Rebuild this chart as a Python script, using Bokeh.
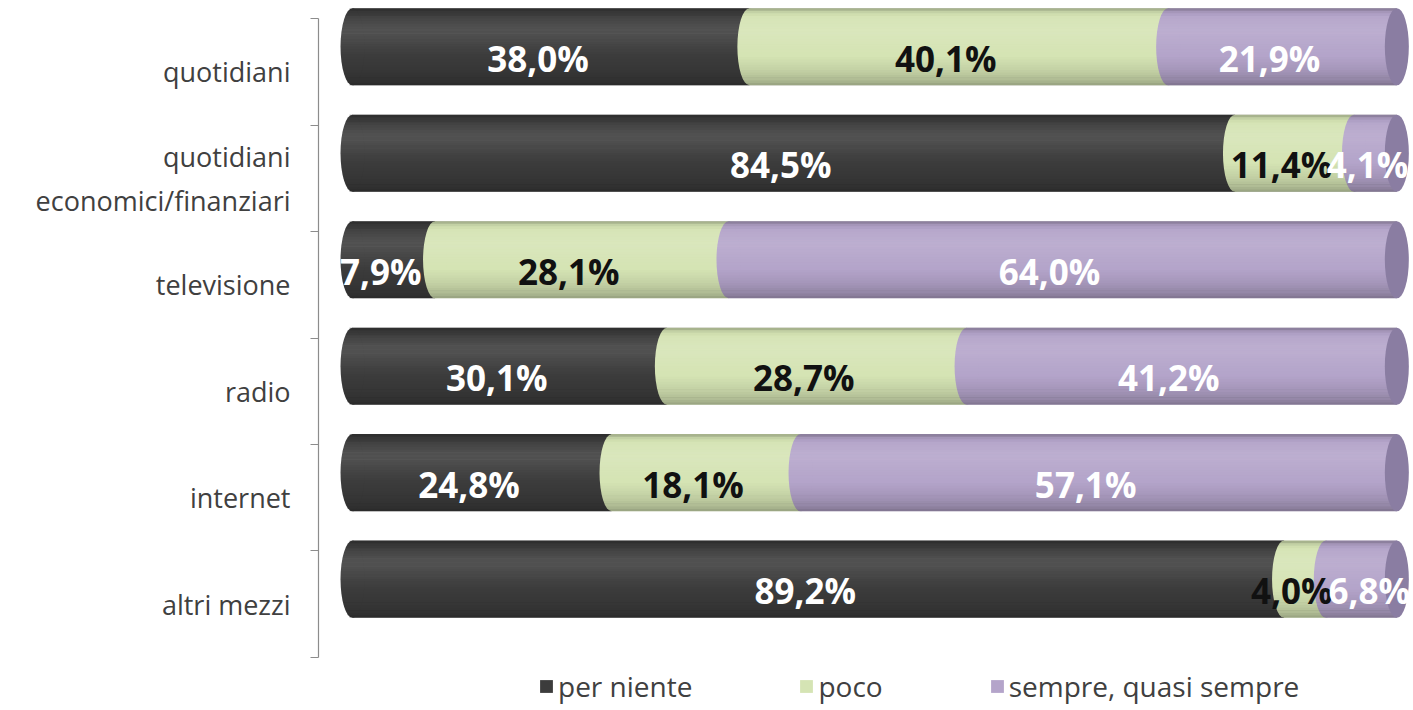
from bokeh.plotting import figure
from bokeh.models import ColumnDataSource, Range1d, FixedTicker, Legend, LegendItem
from bokeh.core.properties import value
from bokeh.embed import file_html
from bokeh.resources import INLINE

# ---- data -----------------------------------------------------------
categories = ["quotidiani", "quotidiani\neconomici/finanziari", "televisione",
              "radio", "internet", "altri mezzi"]
series_names = ["per niente", "poco", "sempre, quasi sempre"]
per_niente = [38.0, 84.5, 7.9, 30.1, 24.8, 89.2]
poco = [40.1, 11.4, 28.1, 28.7, 18.1, 4.0]
sempre = [21.9, 4.1, 64.0, 41.2, 57.1, 6.8]

# ---- style ----------------------------------------------------------
colors = ["#3c3c3c", "#d5e4b4", "#b4a4ca"]
cap_color = "#8a7da2"
label_colors = ["white", "#111111", "white"]
FONT = "Open Sans"
BAR_SHIFT = -0.235     # 3-D perspective shift of the cylinders
BAR_H = 0.725
LABEL_SHIFT = -0.125
LABEL_DX = -1.25
CAP_W = 2.3
CHAR_W = 1.7           # approx. label character width in x units
LABEL_GAP = 0.6
X_MAX = 101.5

n = len(categories)
ypos = list(range(n))

p = figure(width=1412, height=708, output_backend="svg", toolbar_location=None,
           x_range=Range1d(-3.26, X_MAX), y_range=Range1d(5.979, -0.613),
           x_axis_location=None, min_border_left=318, min_border_right=0,
           min_border_top=6, min_border_bottom=0)
p.outline_line_color = None
p.grid.visible = False
p.background_fill_color = "white"
p.border_fill_color = "white"

all_series = [per_niente, poco, sempre]
renderers = []
lefts = [0.0] * n
prev_lab = None
for k, vals in enumerate(all_series):
    rights = [l + v for l, v in zip(lefts, vals)]
    labs = [f"{v:.1f}%".replace(".", ",") for v in vals]
    mids = [(l + r) / 2 + LABEL_DX for l, r in zip(lefts, rights)]
    if prev_lab is not None:
        # keep neighbouring labels from overlapping
        for i in range(n):
            pm, pl = prev_lab[0][i], prev_lab[1][i]
            need = pm + (len(pl) + len(labs[i])) * CHAR_W / 2 + LABEL_GAP
            if mids[i] < need:
                mids[i] = need
    # keep labels inside the plot area
    mids = [min(m, X_MAX - len(t) * CHAR_W / 2 - 0.4) for m, t in zip(mids, labs)]
    prev_lab = (mids, labs)
    src = ColumnDataSource(dict(
        y=[yy + BAR_SHIFT for yy in ypos], left=list(lefts), right=rights,
        ly=[yy + LABEL_SHIFT for yy in ypos], mid=mids, lab=labs))
    r = p.hbar(y="y", left="left", right="right", height=BAR_H, source=src,
               fill_color=colors[k], line_color=None)
    p.ellipse(x="left", y="y", width=CAP_W, height=BAR_H, source=src,
              fill_color=colors[k], line_color=None)
    renderers.append((r, src, k))
    lefts = rights

# cylinder shading: thin strips, shade profile from top (t=0) to bottom (t=1)
profile = [(0.0, -0.30), (0.04, -0.10), (0.12, 0.04), (0.28, 0.12), (0.45, 0.06),
           (0.62, 0.0), (0.80, -0.08), (0.93, -0.18), (1.0, -0.30)]
NS = 30
for j in range(NS):
    t = (j + 0.5) / NS
    for (t0, s0), (t1, s1) in zip(profile[:-1], profile[1:]):
        if t0 <= t <= t1:
            s = s0 + (s1 - s0) * (t - t0) / (t1 - t0)
            break
    if abs(s) < 0.005:
        continue
    u = 2 * t - 1
    xl = -(CAP_W / 2) * (max(0.0, 1 - u * u)) ** 0.5
    s_src = ColumnDataSource(dict(
        y=[yy + BAR_SHIFT - BAR_H / 2 + t * BAR_H for yy in ypos],
        left=[xl] * n, right=lefts))
    p.hbar(y="y", left="left", right="right", height=BAR_H / NS * 1.02, source=s_src,
           fill_color="white" if s > 0 else "black", fill_alpha=abs(s), line_color=None)

# end caps of the cylinders
cap_src = ColumnDataSource(dict(x=lefts, y=[yy + BAR_SHIFT for yy in ypos]))
p.ellipse(x="x", y="y", width=CAP_W, height=BAR_H, source=cap_src,
          fill_color=cap_color, line_color=None)

# data labels
for r, src, k in renderers:
    p.text(x="mid", y="ly", text="lab", source=src, text_align="center",
           text_baseline="middle", text_font=value(FONT), text_font_style="bold",
           text_font_size="35px", text_color=label_colors[k])

# y axis
ax = p.yaxis[0]
ax.ticker = FixedTicker(ticks=ypos, minor_ticks=[i - 0.5 for i in range(n + 1)])
ax.bounds = (-0.5, n - 0.5)
ax.major_label_overrides = {i: c for i, c in enumerate(categories)}
ax.major_tick_line_color = None
ax.major_tick_out = 0
ax.major_tick_in = 0
ax.minor_tick_out = 8
ax.minor_tick_in = 0
ax.minor_tick_line_color = "#8c8c8c"
ax.axis_line_color = "#8c8c8c"
ax.axis_line_width = 1.2
ax.major_label_standoff = 20
ax.major_label_text_font = FONT
ax.major_label_text_font_size = "27px"
ax.major_label_text_color = "#404040"

legend = Legend(items=[LegendItem(label=series_names[k], renderers=[renderers[k][0]])
                       for k in range(3)],
                location=(220, 3), orientation="horizontal",
                glyph_width=16, glyph_height=16, label_standoff=4, spacing=106,
                padding=0, margin=0, border_line_color=None,
                background_fill_alpha=0,
                label_text_font=FONT, label_text_font_size="28px",
                label_text_color="#404040")
p.add_layout(legend)

open("out.html", "w").write(file_html(p, INLINE))
